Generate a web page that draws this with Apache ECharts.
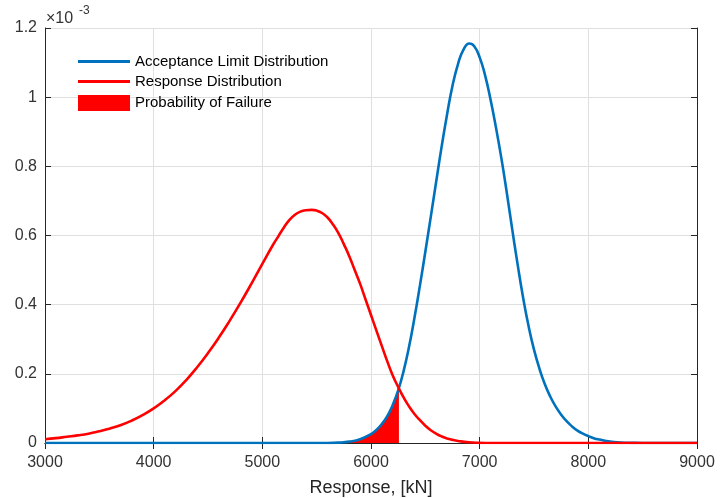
<!DOCTYPE html>
<html>
<head>
<meta charset="utf-8">
<script src="https://cdn.jsdelivr.net/npm/echarts@6/dist/echarts.min.js"></script>
<style>
html,body{margin:0;padding:0;background:#fff;}
#chart{width:720px;height:498px;}
</style>
</head>
<body>
<div id="chart"></div>
<script>
// Acceptance limit distribution (x in kN, density in units of 1e-3)
var acceptanceX = [3000,5600,5700,5800,5900,6000,6050,6100,6150,6200,6250,6300,6350,6400,6450,
                   6500,6550,6600,6650,6700,6750,6800,6850,6905,6950,7000,7050,7100,7150,7200,
                   7250,7300,7350,7400,7450,7500,7550,7600,7650,7700,7750,7800,7850,7900,7950,
                   8000,8050,8100,8200,8300,8400,8500,9000];
var acceptanceY = [0,0,0.001,0.004,0.011,0.026,0.038,0.055,0.078,0.11,0.152,0.208,0.278,0.362,0.455,
                   0.553,0.654,0.756,0.857,0.95,1.033,1.095,1.137,1.155,1.147,1.115,1.063,0.993,0.912,0.823,
                   0.723,0.617,0.515,0.42,0.338,0.27,0.215,0.17,0.134,0.105,0.082,0.063,0.048,0.036,0.027,
                   0.02,0.014,0.01,0.004,0.0015,0.0005,0,0];
// Response distribution
var responseX = [3000,3100,3200,3300,3400,3500,3600,3700,3800,3900,4000,4100,4200,4300,4400,
                 4500,4600,4700,4800,4900,5000,5100,5150,5200,5250,5300,5350,5400,5454,5500,
                 5550,5600,5650,5700,5750,5800,5850,5900,5950,6000,6050,6100,6150,6200,6250,
                 6300,6350,6400,6450,6500,6550,6600,6650,6700,6750,6800,6900,7000,7100,9000];
var responseY = [0.011,0.014,0.018,0.022,0.027,0.034,0.042,0.052,0.065,0.081,0.1,0.123,0.15,0.182,0.219,
                 0.26,0.305,0.354,0.406,0.461,0.518,0.574,0.599,0.624,0.645,0.66,0.669,0.673,0.674,0.672,
                 0.665,0.652,0.632,0.607,0.575,0.54,0.5,0.46,0.415,0.37,0.325,0.28,0.236,0.195,0.162,
                 0.132,0.106,0.084,0.066,0.05,0.037,0.027,0.019,0.013,0.009,0.006,0.002,0.0005,0,0];
// Probability of failure region (under acceptance curve, up to the crossing)
var failureX = [5600,5700,5800,5900,6000,6050,6100,6150,6200,6250,6257];
var failureY = [0,0.001,0.004,0.011,0.026,0.038,0.055,0.078,0.11,0.152,0.16];
var xTicks = [3000,4000,5000,6000,7000,8000,9000];
var yTicks = [0,0.2,0.4,0.6,0.8,1,1.2];

var names = ['Acceptance Limit Distribution','Response Distribution','Probability of Failure'];
function pairs(xs, ys){ return xs.map(function(x,i){ return [x, ys[i]]; }); }

var axisCol = '#262626';
var gridCol = '#dfdfdf';
var font = 'Liberation Sans, Arial, sans-serif';

var chart = echarts.init(document.getElementById('chart'));
chart.setOption({
  animation: false,
  backgroundColor: '#ffffff',
  grid: {left: 45, right: 23, top: 28, bottom: 55, containLabel: false, outerBoundsMode: 'none'},
  xAxis: [{
    type: 'value', min: xTicks[0], max: xTicks[xTicks.length-1], interval: 1000,
    position: 'bottom',
    name: 'Response, [kN]', nameLocation: 'middle', nameGap: 36,
    nameTextStyle: {fontFamily: font, fontSize: 18, color: '#262626'},
    axisLine: {show: true, lineStyle: {color: axisCol, width: 1}},
    axisTick: {show: true, inside: true, length: 6, lineStyle: {color: axisCol}},
    axisLabel: {fontFamily: font, fontSize: 16, color: '#333', margin: 12,
      formatter: function(v){ return String(v); }},
    splitLine: {show: true, lineStyle: {color: gridCol, width: 1}}
  }, {
    type: 'value', min: xTicks[0], max: xTicks[xTicks.length-1], interval: 1000,
    position: 'top',
    axisLine: {show: true, lineStyle: {color: axisCol, width: 1}},
    axisTick: {show: true, inside: true, length: 6, lineStyle: {color: axisCol}},
    axisLabel: {show: false},
    splitLine: {show: false}
  }],
  yAxis: [{
    type: 'value', min: yTicks[0], max: yTicks[yTicks.length-1], interval: 0.2,
    position: 'left',
    axisLine: {show: true, lineStyle: {color: axisCol, width: 1}},
    axisTick: {show: true, inside: true, length: 6, lineStyle: {color: axisCol}},
    axisLabel: {fontFamily: font, fontSize: 16, color: '#333', margin: 8,
      formatter: function(v){ return String(Math.round(v*10)/10); }},
    splitLine: {show: true, lineStyle: {color: gridCol, width: 1}}
  }, {
    type: 'value', min: yTicks[0], max: yTicks[yTicks.length-1], interval: 0.2,
    position: 'right',
    axisLine: {show: true, lineStyle: {color: axisCol, width: 1}},
    axisTick: {show: true, inside: true, length: 6, lineStyle: {color: axisCol}},
    axisLabel: {show: false},
    splitLine: {show: false}
  }],
  legend: [{
    data: [names[0]], left: 78, top: 54, padding: 0, icon: 'rect',
    itemWidth: 52, itemHeight: 3,
    textStyle: {fontFamily: font, fontSize: 15, color: '#000'}
  }, {
    data: [names[1]], left: 78, top: 74, padding: 0, icon: 'rect',
    itemWidth: 52, itemHeight: 3,
    textStyle: {fontFamily: font, fontSize: 15, color: '#000'}
  }, {
    data: [names[2]], left: 78, top: 95, padding: 0, icon: 'rect',
    itemWidth: 52, itemHeight: 16,
    textStyle: {fontFamily: font, fontSize: 15, color: '#000'}
  }],
  graphic: [
    {type: 'text', left: 46, top: 11, style: {text: '×10', font: '16px ' + font, fill: '#333'}},
    {type: 'text', left: 79, top: 5, style: {text: '-3', font: '12px ' + font, fill: '#333'}}
  ],
  series: [{
    name: names[2], type: 'line', data: pairs(failureX, failureY),
    smooth: 0.5, showSymbol: false, symbol: 'none', z: 1,
    lineStyle: {width: 0}, itemStyle: {color: '#ff0000'},
    areaStyle: {color: '#ff0000', opacity: 1, origin: 'start'}
  }, {
    name: names[0], type: 'line', data: pairs(acceptanceX, acceptanceY),
    smooth: 0.5, showSymbol: false, symbol: 'none', z: 2,
    lineStyle: {width: 2.6, color: '#0072bd'}, itemStyle: {color: '#0072bd'}
  }, {
    name: names[1], type: 'line', data: pairs(responseX, responseY),
    smooth: 0.5, showSymbol: false, symbol: 'none', z: 3,
    lineStyle: {width: 2.6, color: '#ff0000'}, itemStyle: {color: '#ff0000'}
  }]
});
</script>
</body>
</html>
